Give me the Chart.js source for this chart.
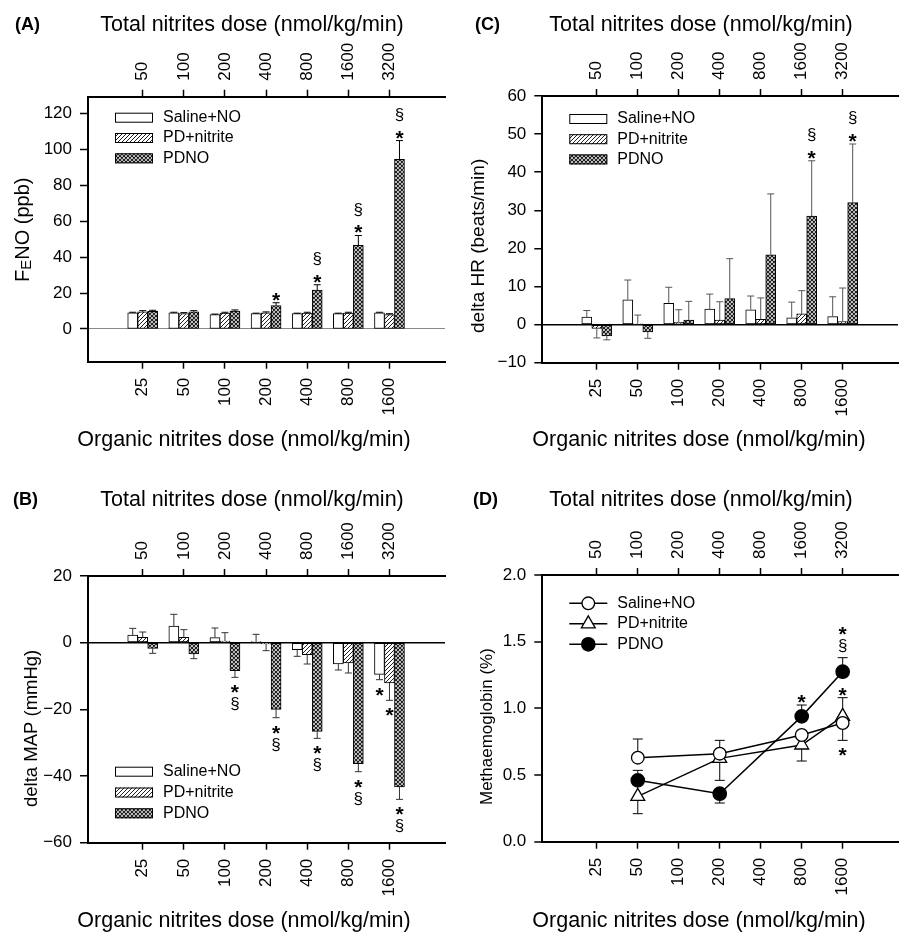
<!DOCTYPE html>
<html lang="en">
<head>
<meta charset="UTF-8">
<title>Nitrite dose responses</title>
<script src="https://cdn.jsdelivr.net/npm/chart.js@4.4.1/dist/chart.umd.min.js"></script>
<style>
    body { margin: 0; background: #fff; }
    .wrap { position: relative; width: 901px; height: 933px; }
    .wrap canvas { position: absolute; left: 0; top: 0; }
</style>
</head>
<body>
<div class="wrap">
    <canvas id="chartA" width="901" height="933"></canvas>
    <canvas id="chartB" width="901" height="933"></canvas>
    <canvas id="chartC" width="901" height="933"></canvas>
    <canvas id="chartD" width="901" height="933"></canvas>
</div>
<script>
// categories
const organicDoses = ['25', '50', '100', '200', '400', '800', '1600'];
const totalDoses = ['50', '100', '200', '400', '800', '1600', '3200'];
const groupNames = ['Saline+NO', 'PD+nitrite', 'PDNO'];

// (A) FeNO, ppb
const fenoSaline = [9.0, 9.0, 8.0, 8.5, 8.5, 8.5, 9.0];
const fenoSalineErr = [0.3, 0.3, 0.3, 0.3, 0.3, 0.3, 0.3];
const fenoPd = [9.6, 8.6, 8.8, 9.0, 8.8, 8.8, 8.0];
const fenoPdErr = [0.6, 0.5, 0.5, 0.5, 0.5, 0.5, 0.5];
const fenoPdno = [9.8, 9.6, 10.0, 13.0, 21.7, 46.5, 94.3];
const fenoPdnoErr = [0.6, 0.6, 0.6, 1.6, 2.9, 5.5, 10.5];
const fenoTicks = [0, 20, 40, 60, 80, 100, 120];
const fenoMarks = [['200', 2, '*'], ['400', 2, '*§'], ['800', 2, '*§'], ['1600', 2, '*§']];

// (B) delta MAP, mmHg
const mapSaline = [2.3, 5.0, 1.5, 0.3, -2.1, -6.4, -9.5];
const mapSalineErr = [2.0, 3.5, 2.9, 2.2, 2.0, 1.8, 1.6];
const mapPd = [1.6, 1.6, 0.5, -0.4, -3.6, -6.1, -12.1];
const mapPdErr = [1.6, 2.3, 2.5, 2.0, 2.8, 3.0, 5.2];
const mapPdno = [-1.7, -3.4, -8.4, -20.0, -26.6, -36.3, -43.3];
const mapPdnoErr = [1.5, 1.4, 2.0, 2.5, 2.1, 2.4, 3.7];
const mapTicks = [-60, -40, -20, 0, 20];
const mapMarks = [['100', 2, '*§'], ['200', 2, '*§'], ['400', 2, '*§'], ['800', 2, '*§'],
                  ['1600', 2, '*§'], ['1600', 0, '*'], ['1600', 1, '*']];

// (C) delta HR, beats/min
const hrSaline = [2.0, 6.5, 5.6, 4.1, 3.9, 1.8, 2.1];
const hrSalineErr = [1.7, 5.2, 4.2, 3.9, 3.6, 4.1, 5.2];
const hrPd = [-1.0, 0.2, 0.6, 1.2, 1.4, 2.8, 0.8];
const hrPdErr = [2.5, 2.3, 3.3, 4.8, 5.6, 6.1, 8.8];
const hrPdno = [-3.0, -1.9, 1.2, 6.8, 18.3, 28.5, 32.0];
const hrPdnoErr = [1.0, 1.7, 4.9, 10.5, 16.0, 14.5, 15.4];
const hrTicks = [-10, 0, 10, 20, 30, 40, 50, 60];
const hrMarks = [['800', 2, '*§'], ['1600', 2, '*§']];

// (D) methaemoglobin, %  (errors signed: + up, - down)
const methDoses = ['50', '200', '800', '1600'];
const methSaline = [0.63, 0.66, 0.80, 0.89];
const methSalineErr = [0.14, 0.10, 0, -0.13];
const methPd = [0.34, 0.625, 0.725, 0.94];
const methPdErr = [-0.13, -0.165, -0.12, 0.14];
const methPdno = [0.46, 0.36, 0.94, 1.275];
const methPdnoErr = [0.075, -0.07, 0.085, 0.105];
const methTicks = [0, 0.5, 1.0, 1.5, 2.0];
const methMarks = [['800', 2, '*'], ['1600', 2, '§*'], ['1600', 1, '*'], ['1600', 0, '*']];

Chart.defaults.font.family = '"Liberation Sans", Arial, Helvetica, sans-serif';
Chart.defaults.color = '#000';
Chart.defaults.animation = false;

const W = 901, H = 933, BOX = 60;
const xMin = -0.33, xMax = 8.35;
const FONT = '"Liberation Sans", Arial, Helvetica, sans-serif';

function signed(v) {
    return v < 0 ? '\u2212' + Math.abs(v) : String(v);
}

function makePatterns(ctx) {
    const h = document.createElement('canvas');
    h.width = 4; h.height = 4;
    const g = h.getContext('2d');
    g.fillStyle = '#fff'; g.fillRect(0, 0, 4, 4);
    g.strokeStyle = '#222'; g.lineWidth = 1;
    g.beginPath();
    g.moveTo(0, 4); g.lineTo(4, 0);
    g.moveTo(-1, 1); g.lineTo(1, -1);
    g.moveTo(3, 5); g.lineTo(5, 3);
    g.stroke();

    const x = document.createElement('canvas');
    x.width = 4; x.height = 4;
    const k = x.getContext('2d');
    k.fillStyle = '#fff'; k.fillRect(0, 0, 4, 4);
    k.strokeStyle = '#1a1a1a'; k.lineWidth = 1.2;
    k.beginPath();
    k.moveTo(0, 4); k.lineTo(4, 0);
    k.moveTo(0, 0); k.lineTo(4, 4);
    k.moveTo(-1, 1); k.lineTo(1, -1);
    k.moveTo(3, 5); k.lineTo(5, 3);
    k.stroke();
    return { hatch: ctx.createPattern(h, 'repeat'), cross: ctx.createPattern(x, 'repeat') };
}

function doseAxis(labels, position) {
    return {
        type: 'linear', position, min: xMin, max: xMax, offset: false,
        afterBuildTicks: s => { s.ticks = labels.map((_, i) => ({ value: i + 1 })); },
        afterFit: s => { s.height = BOX; },
        grid: { drawOnChartArea: false, drawTicks: true, tickLength: 7, tickWidth: 1.5, tickColor: '#000', offset: false },
        border: { display: true, color: '#000', width: 2 },
        ticks: { autoSkip: false, minRotation: 90, maxRotation: 90, padding: 9,
                 font: { size: 17, lineHeight: 1.2 },
                 labelOffset: position === 'top' ? 20.4 : 0,
                 callback: v => labels[v - 1] }
    };
}

function valueAxis(tickVals, min, max, zero, fmt) {
    return {
        type: 'linear', position: 'left', min, max,
        afterBuildTicks: s => { s.ticks = tickVals.map(v => ({ value: v })); },
        afterFit: s => { s.width = BOX; },
        grid: {
            drawOnChartArea: !!zero,
            color: c => (zero && c.tick && c.tick.value === 0) ? zero.color : 'rgba(0,0,0,0)',
            lineWidth: zero ? zero.width : 0,
            drawTicks: true, tickLength: 8, tickWidth: 1.5, tickColor: '#000'
        },
        border: { display: true, color: '#000', width: 2 },
        ticks: { padding: 8, font: { size: 17 }, callback: fmt }
    };
}

function padFor(a) {
    return { left: a.l - BOX, top: a.t - BOX, right: W - a.r, bottom: H - a.b - BOX };
}

function barSet(label, values, fill) {
    return {
        label, data: values.map((v, i) => ({ x: i + 1, y: v })),
        backgroundColor: fill, borderColor: '#000', borderWidth: 1, borderSkipped: false,
        barThickness: 10
    };
}

function errEnd(o, v, e) {
    return o.signedErr ? v + e : v + (v >= 0 ? e : -e);
}

function drawErrors(chart, o) {
    const ctx = chart.ctx, ys = chart.scales.y;
    ctx.save();
    ctx.strokeStyle = o.errColor;
    ctx.lineWidth = 1;
    o.errors.forEach((errs, di) => {
        const meta = chart.getDatasetMeta(di);
        const data = chart.data.datasets[di].data;
        meta.data.forEach((el, j) => {
            const e = errs[j];
            if (!e) return;
            const v = data[j].y;
            const y0 = ys.getPixelForValue(v);
            const y1 = ys.getPixelForValue(errEnd(o, v, e));
            ctx.beginPath();
            ctx.moveTo(el.x, y0); ctx.lineTo(el.x, y1);
            ctx.moveTo(el.x - o.cap / 2, y1); ctx.lineTo(el.x + o.cap / 2, y1);
            ctx.stroke();
        });
    });
    ctx.restore();
}

function drawMarks(chart, o) {
    const ctx = chart.ctx, ys = chart.scales.y;
    ctx.save();
    ctx.fillStyle = '#000';
    ctx.textAlign = 'center';
    o.marks.forEach(([dose, di, seq]) => {
        const j = o.doses.indexOf(dose);
        const el = chart.getDatasetMeta(di).data[j];
        const v = chart.data.datasets[di].data[j].y;
        const e = o.errors[di][j];
        const end = errEnd(o, v, e);
        const up = o.signedErr ? e >= 0 : v >= 0;
        const dir = up ? -1 : 1;
        let off = up ? 8 : 10;
        if (seq[0] === '§') off = 11;
        const yEnd = ys.getPixelForValue(end);
        [...seq].forEach((ch, k) => {
            const cy = yEnd + dir * (off + k * 17.5);
            if (ch === '*') {
                ctx.font = 'bold 21px ' + FONT;
                ctx.fillText('*', el.x, cy + 0.57 * 21);
            } else {
                ctx.font = '17px ' + FONT;
                ctx.fillText('§', el.x, cy + 0.27 * 17);
            }
        });
    });
    ctx.restore();
}

function drawLegend(chart, o) {
    const ctx = chart.ctx, a = chart.chartArea, L = o.legend;
    ctx.save();
    ctx.font = '16px ' + FONT;
    ctx.textBaseline = 'middle';
    ctx.textAlign = 'left';
    chart.data.datasets.forEach((ds, i) => {
        const x0 = a.left + L.dx, y = a.top + L.dy + i * L.step;
        if (chart.config.type === 'bar') {
            ctx.fillStyle = ds.backgroundColor;
            ctx.fillRect(x0, y - 5, 38, 10);
            ctx.strokeStyle = '#000'; ctx.lineWidth = 1;
            ctx.strokeRect(x0 + 0.5, y - 5 + 0.5, 37, 9);
        } else {
            ctx.strokeStyle = '#000'; ctx.lineWidth = 1.5;
            ctx.beginPath(); ctx.moveTo(x0, y); ctx.lineTo(x0 + 38, y); ctx.stroke();
            ctx.fillStyle = ds.pointBackgroundColor;
            ctx.strokeStyle = '#000'; ctx.lineWidth = ds.pointBorderWidth;
            Chart.helpers.drawPoint(ctx, { pointStyle: ds.pointStyle, radius: ds.pointRadius,
                                           borderWidth: ds.pointBorderWidth, rotation: 0 }, x0 + 19, y);
        }
        ctx.fillStyle = '#000';
        ctx.fillText(ds.label, x0 + 48, y);
    });
    ctx.restore();
}

function drawTexts(chart, o) {
    const ctx = chart.ctx, t = o.texts;
    ctx.save();
    ctx.fillStyle = '#000';
    ctx.textBaseline = 'alphabetic';
    ctx.font = 'bold 18px ' + FONT;
    ctx.textAlign = 'left';
    ctx.fillText(t.letter[0], t.letter[1], t.letter[2]);
    ctx.font = '21.5px ' + FONT;
    ctx.textAlign = 'center';
    ctx.fillText('Total nitrites dose (nmol/kg/min)', t.top[0], t.top[1]);
    ctx.fillText('Organic nitrites dose (nmol/kg/min)', t.bottom[0], t.bottom[1]);
    // rotated y title, drawn from its lower end upward
    ctx.translate(t.yTitle.x, t.yTitle.y);
    ctx.rotate(-Math.PI / 2);
    ctx.textAlign = 'left';
    ctx.textBaseline = 'middle';
    let cx = 0;
    t.yTitle.parts.forEach(p => {
        const size = p.sub ? t.yTitle.size * 0.75 : t.yTitle.size;
        ctx.font = size + 'px ' + FONT;
        ctx.fillText(p.text, cx, p.sub ? 4 : 0);
        cx += ctx.measureText(p.text).width;
    });
    ctx.restore();
}

const decor = {
    id: 'decor',
    beforeDatasetsDraw(chart, args, o) { if (o.errBehind) drawErrors(chart, o); },
    afterDatasetsDraw(chart, args, o) { if (!o.errBehind) drawErrors(chart, o); },
    afterDraw(chart, args, o) {
        drawLegend(chart, o);
        drawMarks(chart, o);
        drawTexts(chart, o);
    }
};

function barPanel(id, area, values, errs, yTicks, yMin, yMax, zero, extra) {
    const ctx = document.getElementById(id).getContext('2d');
    const p = makePatterns(ctx);
    const fills = ['#fff', p.hatch, p.cross];
    return new Chart(ctx, {
        type: 'bar',
        data: { datasets: values.map((v, i) => barSet(groupNames[i], v, fills[i])) },
        plugins: [decor],
        options: {
            responsive: false,
            layout: { padding: padFor(area), autoPadding: false },
            scales: {
                x: doseAxis(organicDoses, 'bottom'),
                x2: doseAxis(totalDoses, 'top'),
                y: valueAxis(yTicks, yMin, yMax, zero, signed)
            },
            plugins: {
                legend: { display: false },
                tooltip: { enabled: false },
                decor: Object.assign({ errors: errs, doses: organicDoses, cap: 7, signedErr: false, errBehind: false }, extra)
            }
        }
    });
}

barPanel('chartA', { l: 88, t: 96.7, r: 445, b: 361.7 },
    [fenoSaline, fenoPd, fenoPdno], [fenoSalineErr, fenoPdErr, fenoPdnoErr],
    fenoTicks, -18.2, 129.2, { color: '#888', width: 1 }, {
        errColor: '#000', marks: fenoMarks,
        legend: { dx: 27, dy: 21, step: 20.3 },
        texts: { letter: ['(A)', 15, 30], top: [252, 30.6], bottom: [244, 445.6],
                 yTitle: { x: 23, y: 282, size: 20,
                           parts: [{ text: 'F' }, { text: 'E', sub: true }, { text: 'NO (ppb)' }] } }
    });

barPanel('chartB', { l: 88, t: 576, r: 445, b: 842.7 },
    [mapSaline, mapPd, mapPdno], [mapSalineErr, mapPdErr, mapPdnoErr],
    mapTicks, -60, 20, { color: '#000', width: 1.5 }, {
        errColor: '#333', marks: mapMarks,
        legend: { dx: 27, dy: 195.7, step: 20.8 },
        texts: { letter: ['(B)', 13, 505], top: [252, 505.6], bottom: [244, 927.3],
                 yTitle: { x: 32, y: 807, size: 18.5, parts: [{ text: 'delta MAP (mmHg)' }] } }
    });

barPanel('chartC', { l: 542.3, t: 96, r: 898, b: 362.7 },
    [hrSaline, hrPd, hrPdno], [hrSalineErr, hrPdErr, hrPdnoErr],
    hrTicks, -10, 60, { color: '#000', width: 1.5 }, {
        errColor: '#555', marks: hrMarks,
        legend: { dx: 27, dy: 23, step: 20.2 },
        texts: { letter: ['(C)', 475, 30], top: [701, 30.6], bottom: [699, 445.6],
                 yTitle: { x: 479, y: 333, size: 19, parts: [{ text: 'delta HR (beats/min)' }] } }
    });

// (D) line panel
(function () {
    const ctx = document.getElementById('chartD').getContext('2d');
    const xOf = d => organicDoses.indexOf(d) + 1;
    const series = [
        { label: groupNames[0], v: methSaline, style: 'circle', r: 6.3, fill: '#fff' },
        { label: groupNames[1], v: methPd, style: 'triangle', r: 8, fill: '#fff' },
        { label: groupNames[2], v: methPdno, style: 'circle', r: 6.7, fill: '#000' }
    ];
    new Chart(ctx, {
        type: 'line',
        data: {
            datasets: series.map(s => ({
                label: s.label,
                data: s.v.map((v, i) => ({ x: xOf(methDoses[i]), y: v })),
                borderColor: '#000', borderWidth: 1.5, tension: 0, fill: false,
                pointStyle: s.style, pointRadius: s.r, pointBackgroundColor: s.fill,
                pointBorderColor: '#000', pointBorderWidth: 1.3
            }))
        },
        plugins: [decor],
        options: {
            responsive: false,
            layout: { padding: padFor({ l: 542.3, t: 575, r: 898, b: 841.7 }), autoPadding: false },
            scales: {
                x: doseAxis(organicDoses, 'bottom'),
                x2: doseAxis(totalDoses, 'top'),
                y: valueAxis(methTicks, 0, 2, null, v => v.toFixed(1))
            },
            plugins: {
                legend: { display: false },
                tooltip: { enabled: false },
                decor: {
                    errors: [methSalineErr, methPdErr, methPdnoErr], doses: methDoses,
                    cap: 10, signedErr: true, errBehind: true, errColor: '#000', marks: methMarks,
                    legend: { dx: 27, dy: 28.3, step: 20.5 },
                    texts: { letter: ['(D)', 473, 505], top: [701, 505.6], bottom: [699, 927.3],
                             yTitle: { x: 487, y: 805, size: 17, parts: [{ text: 'Methaemoglobin (%)' }] } }
                }
            }
        }
    });
})();
</script>
</body>
</html>
